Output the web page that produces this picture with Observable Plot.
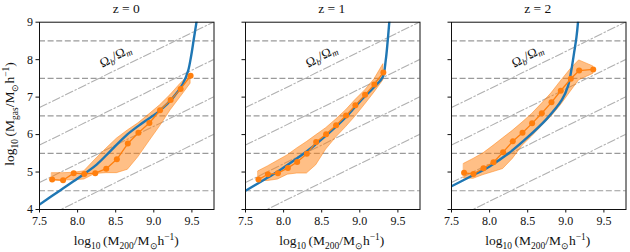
<!DOCTYPE html>
<html>
<head>
<meta charset="utf-8">
<script src="https://cdn.jsdelivr.net/npm/d3@7"></script>
<script src="https://cdn.jsdelivr.net/npm/@observablehq/plot@0.6"></script>
<style>
  html, body { margin: 0; padding: 0; background: white; }
  #wrap { position: relative; width: 630px; height: 252px; overflow: hidden; font-family: "Liberation Serif", serif; color: #111; }
  #wrap svg, #wrap svg text { font-family: "Liberation Serif", serif !important; }
  .lbl { position: absolute; white-space: nowrap; font-size: 13.5px; line-height: 14px; font-weight: normal; }
  .lbl sub, .lbl sup { font-size: 70%; line-height: 0; }
  .title { position: absolute; top: 2px; font-size: 13.5px; line-height: 14px; font-weight: normal; transform: translateX(-50%); white-space: nowrap; }
</style>
</head>
<body>
<div id="wrap"></div>
<script>
// ---------- data ----------
const redshifts = ["z = 0", "z = 1", "z = 2"];
const xTicks = [7.5, 8.0, 8.5, 9.0, 9.5];
const yTicks = [4, 5, 6, 7, 8, 9];
const gasLevels = [4.5, 5.5, 6.5, 7.5, 8.5];
const baryonOffsets = [-0.78, -1.78, -2.78, -3.78]; // log10(Ωb/Ωm) and decades below
const xDomain = [7.5, 9.79];
const yDomain = [4, 9];

// z = 0
const binX0 = [7.666, 7.809, 7.949, 8.088, 8.232, 8.376, 8.515, 8.659, 8.798, 8.942, 9.082, 9.221, 9.352, 9.483];
const med0  = [4.80, 4.78, 4.97, 4.95, 4.97, 5.09, 5.34, 5.76, 6.05, 6.31, 6.65, 6.92, 7.22, 7.57];
const lo0   = [4.78, 4.78, 4.78, 4.80, 4.95, 4.97, 4.97, 5.06, 5.40, 5.82, 6.22, 6.65, 7.00, 7.36];
const hi0   = [4.97, 4.97, 4.98, 5.02, 5.33, 5.62, 5.89, 6.11, 6.30, 6.54, 6.78, 7.06, 7.36, 7.62];
const curveX0 = [7.5, 7.77, 8.0, 8.25, 8.43, 8.65, 8.85, 9.08, 9.25, 9.38, 9.45, 9.49, 9.525, 9.56, 9.58];
const curveY0 = [4.13, 4.51, 4.83, 5.2, 5.56, 6.0, 6.31, 6.64, 6.98, 7.35, 7.7, 8.1, 8.55, 9.0, 9.3];

// z = 1
const binX1 = [7.670, 7.794, 7.925, 8.056, 8.178, 8.305, 8.427, 8.558, 8.689, 8.820, 8.942, 9.069, 9.191, 9.309];
const med1  = [4.80, 4.94, 4.97, 5.11, 5.27, 5.49, 5.80, 6.01, 6.25, 6.51, 6.78, 7.06, 7.34, 7.66];
const lo1   = [4.76, 4.76, 4.80, 4.93, 4.96, 4.96, 5.18, 5.60, 5.92, 6.20, 6.48, 6.80, 7.12, 7.45];
const hi1   = [5.02, 5.15, 5.30, 5.45, 5.63, 5.80, 5.98, 6.17, 6.40, 6.65, 6.92, 7.18, 7.47, 7.88];
const curveX1 = [7.5, 7.75, 7.95, 8.2, 8.38, 8.6, 8.82, 9.0, 9.19, 9.3, 9.34, 9.366, 9.387, 9.40];
const curveY1 = [4.5, 4.8, 5.05, 5.4, 5.67, 6.05, 6.47, 6.88, 7.27, 7.53, 7.98, 8.5, 9.0, 9.3];

// z = 2
const binX2 = [7.665, 7.789, 7.920, 8.051, 8.177, 8.304, 8.432, 8.558, 8.685, 8.812, 8.934, 9.066, 9.175, 9.36];
const med2  = [4.98, 4.95, 5.10, 5.26, 5.53, 5.82, 6.05, 6.30, 6.57, 6.86, 7.17, 7.49, 7.71, 7.74];
const lo2   = [4.83, 4.82, 4.92, 5.00, 5.08, 5.35, 5.70, 5.95, 6.22, 6.48, 6.78, 7.15, 7.45, 7.62];
const hi2   = [5.22, 5.35, 5.50, 5.70, 5.90, 6.10, 6.32, 6.55, 6.82, 7.10, 7.42, 7.75, 7.98, 7.82];
const curveX2 = [7.5, 7.75, 8.0, 8.25, 8.5, 8.75, 8.95, 9.03, 9.075, 9.11, 9.14, 9.16, 9.17];
const curveY2 = [4.62, 4.88, 5.15, 5.5, 5.93, 6.42, 6.93, 7.3, 7.75, 8.2, 8.6, 9.0, 9.3];

const bins = [[binX0, med0, lo0, hi0], [binX1, med1, lo1, hi1], [binX2, med2, lo2, hi2]];
const curves = [[curveX0, curveY0], [curveX1, curveY1], [curveX2, curveY2]];

// ---------- layout ----------
const panelLeft = [39, 244.5, 450.5];
const panelW = 174.5;
const mL = 39, mR = 6, mT = 21.7, mB = 43;
const BLUE = "#1f77b4", ORANGE = "#ff7f0e";
const SERIF = "'Liberation Serif', serif";

const wrap = document.getElementById("wrap");

redshifts.forEach((title, i) => {
  const [bx, med, lo, hi] = bins[i];
  const [cx, cy] = curves[i];
  const binned = bx.map((x, k) => ({x, med: med[k], lo: lo[k], hi: hi[k]}));
  const curve = cx.map((x, k) => ({x, y: cy[k]}));
  const diag = baryonOffsets.flatMap(c => xDomain.map(x => ({x, y: x + c, c})));
  const first = i === 0;

  const svg = Plot.plot({
    width: mL + panelW + mR,
    height: 252,
    marginLeft: mL, marginRight: mR, marginTop: mT, marginBottom: mB,
    style: {background: "none", fontFamily: SERIF, fontSize: "12px", color: "#111", overflow: "visible"},
    x: {domain: xDomain, ticks: xTicks, tickFormat: d3.format(".1f"), tickSize: 3.5, tickPadding: 3, label: null},
    y: {domain: yDomain, ticks: yTicks, tickFormat: first ? d3.format("d") : () => "", tickSize: 3.5, tickPadding: 3, label: null},
    marks: [
      Plot.ruleY(gasLevels, {stroke: "#9a9a9a", strokeWidth: 1.2, strokeDasharray: "6,2.6"}),
      Plot.line(diag, {x: "x", y: "y", z: "c", stroke: "#b0b0b0", strokeWidth: 1.1, strokeDasharray: "8,2.5,1.5,2.5", clip: true}),
      Plot.areaY(binned, {x: "x", y1: "lo", y2: "hi", fill: ORANGE, fillOpacity: 0.5, stroke: ORANGE, strokeOpacity: 0.5, strokeWidth: 1}),
      Plot.line(curve, {x: "x", y: "y", stroke: BLUE, strokeWidth: 2.4, curve: "catmull-rom", clip: true}),
      Plot.line(binned, {x: "x", y: "med", stroke: ORANGE, strokeWidth: 1.3}),
      Plot.dot(binned, {x: "x", y: "med", r: 3, fill: ORANGE, stroke: "none"}),
      Plot.text(["Ωb/Ωm"], {x: 8.5, y: 8.08, text: d => d, rotate: -26, fontSize: 13, fill: "#111"}),
      Plot.frame({stroke: "#111", strokeWidth: 1})
    ]
  });
  svg.style.position = "absolute";
  svg.style.left = (panelLeft[i] - mL) + "px";
  svg.style.top = "0px";

  // math-style label with subscripts
  d3.select(svg).selectAll("text").filter(function() { return this.textContent === "Ωb/Ωm"; })
    .each(function() {
      const t = d3.select(this);
      t.text(null);
      t.append("tspan").text("Ω");
      t.append("tspan").attr("font-size", "9px").attr("font-style", "italic").attr("dy", "0.25em").text("b");
      t.append("tspan").attr("dy", "-0.25em").text("/Ω");
      t.append("tspan").attr("font-size", "9px").attr("font-style", "italic").attr("dy", "0.25em").text("m");
    });
  wrap.appendChild(svg);

  const t = document.createElement("div");
  t.className = "title";
  t.style.left = (panelLeft[i] + panelW / 2) + "px";
  t.textContent = title;
  wrap.appendChild(t);

  const xl = document.createElement("div");
  xl.className = "lbl";
  xl.innerHTML = "log<sub>10</sub>&thinsp;(M<sub>200</sub>/M<sub>⊙</sub>h<sup>−1</sup>)";
  xl.style.left = (panelLeft[i] + panelW / 2) + "px";
  xl.style.top = "234px";
  xl.style.transform = "translateX(-50%)";
  wrap.appendChild(xl);
});

const yl = document.createElement("div");
yl.className = "lbl";
yl.innerHTML = "log<sub>10</sub>&thinsp;(M<sub>gas</sub>/M<sub>⊙</sub>h<sup>−1</sup>)";
yl.style.left = "10px";
yl.style.top = "114px";
yl.style.transform = "translate(-50%, -50%) rotate(-90deg)";
wrap.appendChild(yl);
</script>
</body>
</html>
